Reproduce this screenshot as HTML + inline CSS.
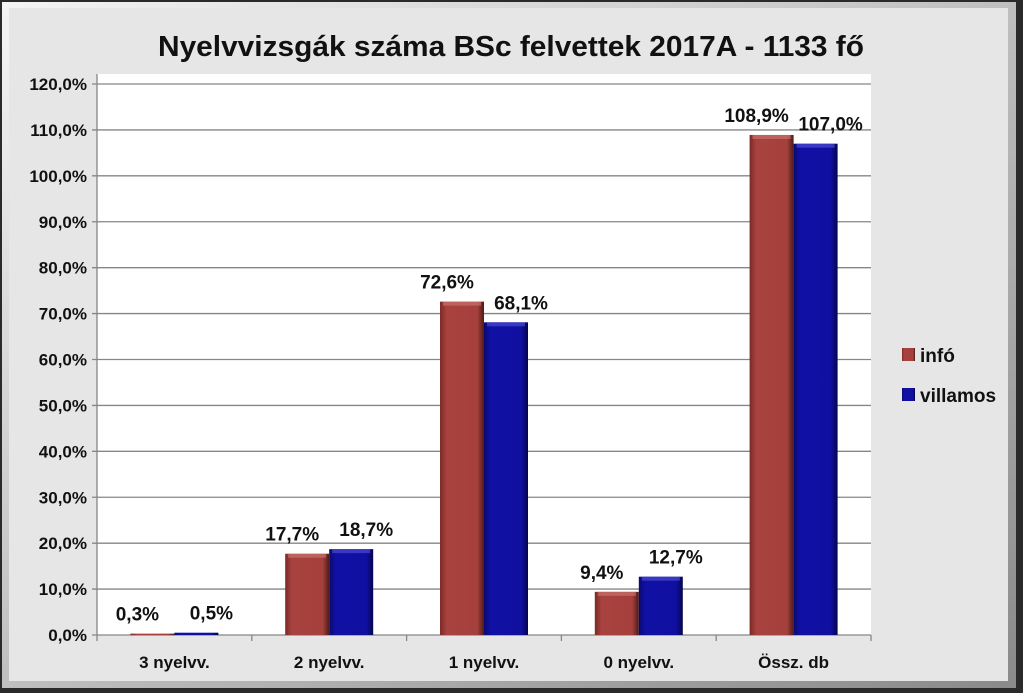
<!DOCTYPE html>
<html><head><meta charset="utf-8"><style>
html,body{margin:0;padding:0;width:1023px;height:693px;overflow:hidden;background:#2a2a2a}
svg{display:block;font-family:"Liberation Sans",Arial,sans-serif}
</style></head><body>
<svg id="chart" width="1023" height="693" viewBox="0 0 1023 693">
<defs>
<linearGradient id="gRed" x1="0" x2="1" y1="0" y2="0">
<stop offset="0" stop-color="#7a2a27"/><stop offset="0.15" stop-color="#a8423e"/><stop offset="0.85" stop-color="#a5403c"/><stop offset="1" stop-color="#4e1a18"/></linearGradient>
<linearGradient id="gBlue" x1="0" x2="1" y1="0" y2="0">
<stop offset="0" stop-color="#0a0a70"/><stop offset="0.15" stop-color="#1010a4"/><stop offset="0.85" stop-color="#0f0fa0"/><stop offset="1" stop-color="#05054a"/></linearGradient>
<linearGradient id="frame" x1="0" y1="0" x2="1" y2="1"><stop offset="0" stop-color="#f4f4f4"/><stop offset="1" stop-color="#8a8a8a"/></linearGradient>
</defs>
<rect x="0" y="0" width="1023" height="693" fill="#2a2a2a"/>
<rect x="2" y="2" width="1014" height="686" fill="url(#frame)"/>
<rect x="9" y="8" width="999" height="673" fill="#e6e6e6"/>
<text x="511" y="56" text-anchor="middle" font-size="29" font-weight="bold" fill="#111" textLength="706" lengthAdjust="spacingAndGlyphs">Nyelvvizsgák száma BSc felvettek 2017A - 1133 fő</text>
<rect x="97" y="74" width="774" height="561" fill="#fff"/>
<g id="grid"></g><g id="bars"></g><g id="labels"></g>
<g>
<rect x="902" y="348" width="13" height="13" fill="url(#gRed)"/>
<text x="920" y="362" font-size="19" font-weight="bold" fill="#111">infó</text>
<rect x="902" y="388" width="13" height="13" fill="url(#gBlue)"/>
<text x="920" y="402" font-size="19" font-weight="bold" fill="#111">villamos</text>
</g>
</svg>
<script>
const categories = ["3 nyelvv.", "2 nyelvv.", "1 nyelvv.", "0 nyelvv.", "Össz. db"];
const infoValues = [0.3, 17.7, 72.6, 9.4, 108.9];
const villamosValues = [0.5, 18.7, 68.1, 12.7, 107.0];
const yTicks = [0, 10, 20, 30, 40, 50, 60, 70, 80, 90, 100, 110, 120];

const NS = "http://www.w3.org/2000/svg";
const X0 = 97, X1 = 871, Y0 = 635, Y1 = 84, YMAX = 120;
const bandW = (X1 - X0) / categories.length;
const barW = 44;
function yPos(v){ return Y0 - (v / YMAX) * (Y0 - Y1); }
function bandCenter(i){ return X0 + bandW * (i + 0.5); }
function fmt(v){ return v.toFixed(1).replace('.', ',') + '%'; }
function mk(tag, attrs, parent){ const e = document.createElementNS(NS, tag); for (const k in attrs) e.setAttribute(k, attrs[k]); parent.appendChild(e); return e; }

const grid = document.getElementById('grid');
const bars = document.getElementById('bars');
const labels = document.getElementById('labels');

yTicks.forEach(t => {
  const y = yPos(t);
  const l = mk('line', {x1: X0 - 5, x2: X1, y1: y, y2: y, stroke: '#868686', 'stroke-width': 1.3}, grid);
  
  
  const tx = mk('text', {x: X0 - 10, y: y + 6, 'text-anchor': 'end', 'font-size': 17, 'font-weight': 'bold', fill: '#111'}, grid);
  tx.textContent = fmt(t);
  
  
});
const ax = mk('line', {x1: X0, x2: X0, y1: 74, y2: Y0, stroke: '#868686', 'stroke-width': 1.3}, grid);


for (let i = 0; i <= categories.length; i++) {
  const x = X0 + bandW * i;
  const tk = mk('line', {x1: x, x2: x, y1: Y0, y2: Y0 + 6, stroke: '#868686', 'stroke-width': 1.3}, grid);
  
  
}

categories.forEach((c, i) => {
  const cx = bandCenter(i);
  [[infoValues[i], 'url(#gRed)', cx - barW, 'info', '#c7706b', -15], [villamosValues[i], 'url(#gBlue)', cx, 'villamos', '#4a4ad0', 15]].forEach(([v, fill, x, s, hl, off]) => {
    const y = yPos(v);
    const r = mk('rect', {x: x, y: y, width: barW, height: Math.max(Y0 - y, 1.5), fill: fill}, bars);
    
    
    if (Y0 - y > 8) {
      const h = mk('rect', {x: x + 3, y: y, width: barW - 6, height: 4, fill: hl, opacity: 0.7}, bars);
      
      
    }
    const t = mk('text', {x: x + barW / 2 + off, y: y - 13, 'text-anchor': 'middle', 'font-size': 19, 'font-weight': 'bold', fill: '#111'}, labels);
    t.textContent = fmt(v);
    
    
  });
  const ct = mk('text', {x: cx, y: Y0 + 33, 'text-anchor': 'middle', 'font-size': 17, 'font-weight': 'bold', fill: '#111'}, labels);
  ct.textContent = c;
  
  
});
</script>
</body></html>
